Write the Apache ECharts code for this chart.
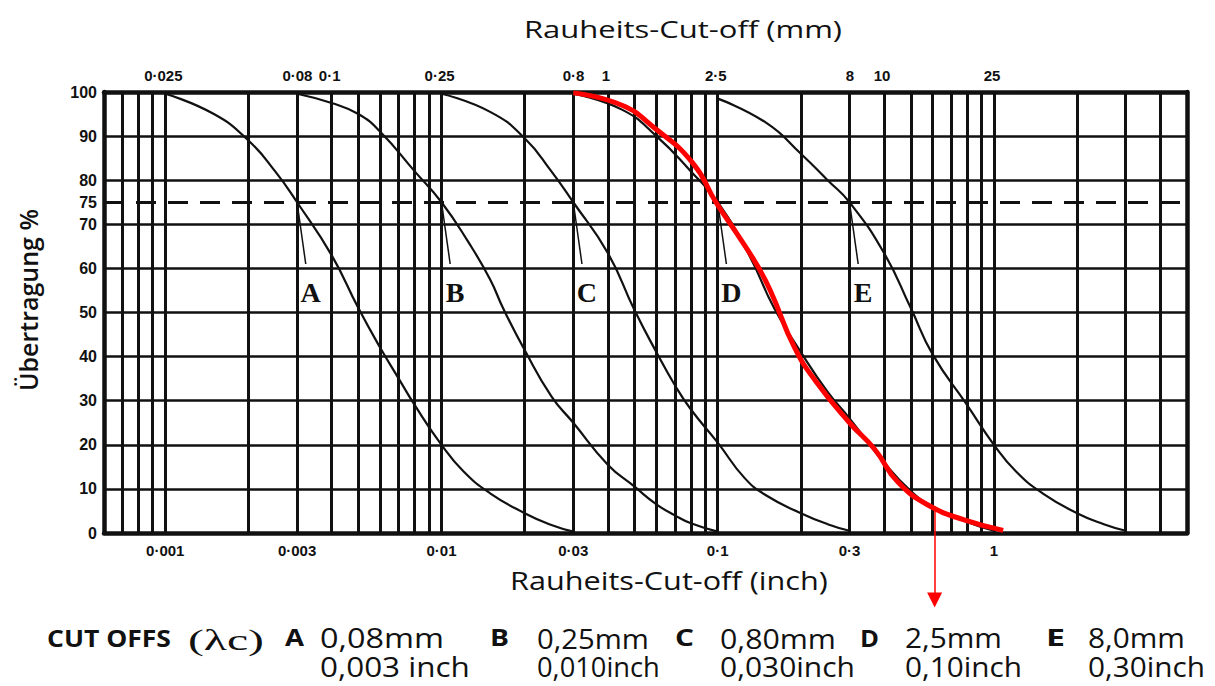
<!DOCTYPE html>
<html><head><meta charset="utf-8">
<script src="https://cdn.jsdelivr.net/npm/echarts@6/dist/echarts.min.js"></script>
<style>html,body{margin:0;padding:0;background:#fff}#c{width:1215px;height:686px}</style>
</head><body><div id="c"></div>
<script>
// ---------------- data ----------------
// transmission curves: [wavelength cut-off in inch, transmission %]
const curveA = [[0.001,99.6],[0.0015,95],[0.002,89],[0.0025,82],[0.003,75],[0.004,63],[0.005,51],[0.006,42],[0.007,35],[0.008,29],[0.01,20],[0.012,14],[0.015,9],[0.02,4.5],[0.025,1.8],[0.03,0.3]];
const curveB = [[0.003,99.6],[0.004,97.5],[0.005,95],[0.006,91],[0.008,82],[0.01,75],[0.0125,66],[0.015,57.5],[0.0167,51],[0.02,41.5],[0.025,31],[0.03,25],[0.04,15.5],[0.05,10.5],[0.06,6.5],[0.07,4],[0.08,2.2],[0.1,0.3]];
const curveC = [[0.01,99.6],[0.015,95.5],[0.02,89.5],[0.025,82],[0.03,75],[0.04,63.5],[0.05,50.5],[0.06,41],[0.07,33.5],[0.08,28],[0.1,20.5],[0.125,12.5],[0.15,8.5],[0.2,4.5],[0.25,2],[0.3,0.5]];
const curveD = [[0.03,99.6],[0.045,96],[0.06,90],[0.08,82],[0.1,75],[0.13,63],[0.16,51],[0.2,41],[0.25,32],[0.3,26],[0.4,16],[0.5,9.5],[0.6,6],[0.8,2.5],[1,0.5]];
const curveE = [[0.1,98.5],[0.15,93],[0.2,86],[0.25,80],[0.3,75],[0.4,63.5],[0.5,51],[0.6,40.5],[0.8,29],[1,20],[1.2,14],[1.5,9],[2,4.5],[2.5,2],[3,0.5]];
// red hand-drawn highlight over curve D
const curveRed = [[0.03,99.8],[0.045,97],[0.0586,92],[0.081,84],[0.0985,75],[0.117,68],[0.138,61],[0.155,55],[0.19,42],[0.229,34],[0.3,25],[0.37,19],[0.45,11.5],[0.59,6],[0.78,3],[1.08,0.6]];
const arrowAt = [0.61, 6];            // red arrow start on the red curve
const cutoffLetters = ['A','B','C','D','E'];
const cutoffInch = [0.003,0.01,0.03,0.1,0.3];
const cutoffMmText = ['0,08mm','0,25mm','0,80mm','2,5mm','8,0mm'];
const cutoffInchText = ['0,003 inch','0,010inch','0,030inch','0,10inch','0,30inch'];
// axis ticks
const inchTickLabels = [0.001,0.003,0.01,0.03,0.1,0.3,1];
const mmTickLabels = [0.025,0.08,0.1,0.25,0.8,1,2.5,8,10,25];
const inchGridLines = [];
[0.0001,0.001,0.01,0.1,1].forEach(d => { for (let k=1;k<=9;k++){ const v=+(k*d).toPrecision(3); if (v>0.00061 && v<4.9) inchGridLines.push(v);} });
const xMinInch = 0.0006, xMaxInch = 5, mmPerInch = 25.4;

// ---------------- helpers ----------------
const INK = '#111';
function fmtDot(v){ return String(+(+v).toPrecision(4)).replace('.', '·'); }
function fmtTop(v){
  const s = fmtDot(v);
  const n = +(+v).toPrecision(4);
  return (n === 0.08 || n === 0.8 || n === 8) ? '{l|' + s + '}' : '{n|' + s + '}';
}
const mctx = document.createElement('canvas').getContext('2d');
function textW(t, font){ mctx.font = font; return mctx.measureText(t).width; }
function fitText(t, x, y, w, size, family, weight, extra){
  const sx = w / textW(t, (weight||'normal')+' '+size+'px '+family);
  return Object.assign({type:'text', x:x, y:y, scaleX:sx, scaleY:1, originX:0, originY:0, silent:true,
    style:{text:t, fontSize:size, fontFamily:family, fontWeight:weight||'normal', fill:INK,
           align:'left', verticalAlign:'middle', textAlign:'left', textVerticalAlign:'middle'}}, extra||{});
}
const tickFont = {fontFamily:'Liberation Sans', fontWeight:'bold', fontSize:15, color:INK};

const chart = echarts.init(document.getElementById('c'), null, {renderer:'svg'});

const graphics = [
  fitText('Rauheits-Cut-off (mm)', 524, 28, 318, 24, 'Open Sans'),
  fitText('Rauheits-Cut-off (inch)', 510, 580, 318, 25, 'Open Sans'),
  fitText('CUT OFFS', 47, 638, 124, 23, 'Open Sans', 'bold'),
  fitText('(λc)', 188, 640, 76, 29, 'Liberation Serif'),
  {type:'text', x:28, y:300, rotation:Math.PI/2, silent:true,
   style:{text:'Übertragung %', fontSize:25, fontFamily:'Open Sans', fontWeight:600, fill:INK,
          align:'center', verticalAlign:'middle', textAlign:'center', textVerticalAlign:'middle'}}
];
const legendLetterX = [285, 490, 675, 860, 1046];
const legendValX = [320, 537, 720, 905, 1088];
const legendMmW = [124, 112, 116, 97, 97];
const legendInW = [150, 123, 135, 117, 117];
cutoffLetters.forEach((L,i) => {
  graphics.push(fitText(L, legendLetterX[i], 637, 19, 24, 'Open Sans', 'bold'));
  graphics.push(fitText(cutoffMmText[i], legendValX[i], 638, legendMmW[i], 27, 'Open Sans'));
  graphics.push(fitText(cutoffInchText[i], legendValX[i], 667, legendInW[i], 27, 'Open Sans'));
});

const blackSeries = [curveA, curveB, curveC, curveD, curveE].map((d,i) => ({
  type:'line', name:'Kurve '+cutoffLetters[i], data:d, xAxisIndex:0, yAxisIndex:0,
  smooth:0.5, showSymbol:false, symbol:'none', silent:true, z:3,
  lineStyle:{color:INK, width:2.2}
}));
blackSeries[0].markLine = {
  silent:true, symbol:'none', animation:false,
  lineStyle:{color:INK, width:3, type:[20,12]},
  label:{show:true, position:'start', formatter:'75', distance:7, ...tickFont, fontSize:16},
  data:[{yAxis:75}]
};

const option = {
  animation:false,
  backgroundColor:'#fff',
  grid:{left:104, right:28, top:92, bottom:153},
  xAxis:[
    {type:'log', position:'bottom', min:xMinInch, max:xMaxInch,
     axisLine:{show:true, onZero:false, lineStyle:{color:INK, width:4.5}},
     axisTick:{show:false, customValues:inchGridLines},
     splitLine:{show:true, lineStyle:{color:INK, width:3}},
     axisLabel:{customValues:inchTickLabels, formatter:fmtDot, margin:10, ...tickFont}},
    {type:'log', position:'top', min:xMinInch*mmPerInch, max:xMaxInch*mmPerInch,
     axisLine:{show:true, onZero:false, lineStyle:{color:INK, width:4.5}},
     axisTick:{show:false, customValues:mmTickLabels},
     splitLine:{show:false},
     axisLabel:{customValues:mmTickLabels, formatter:fmtTop, margin:9, ...tickFont,
       rich:{l:{...tickFont, padding:[0,11,0,0]}, n:{...tickFont}}}}
  ],
  yAxis:[
    {type:'value', min:0, max:100, interval:10, position:'left',
     axisLine:{show:true, onZero:false, lineStyle:{color:INK, width:4.5}},
     axisTick:{show:false},
     splitLine:{show:true, lineStyle:{color:INK, width:2.6}},
     axisLabel:{margin:7, ...tickFont, fontSize:16}},
    {type:'value', min:0, max:100, interval:10, position:'right',
     axisLine:{show:true, onZero:false, lineStyle:{color:INK, width:4.5}},
     axisTick:{show:false}, splitLine:{show:false}, axisLabel:{show:false}}
  ],
  graphic:graphics,
  series:[
    ...blackSeries,
    {type:'line', name:'Markierung', data:curveRed, xAxisIndex:0, yAxisIndex:0,
     smooth:0.5, showSymbol:false, symbol:'none', silent:true, z:5,
     lineStyle:{color:'#ff0000', width:5}},
    {type:'lines', coordinateSystem:'cartesian2d', xAxisIndex:0, yAxisIndex:0, clip:false, silent:true, z:4,
     data:cutoffInch.map(c => ({coords:[[c,75],[c*1.075,61]]})),
     lineStyle:{color:INK, width:1.5, opacity:1}, symbol:'none'},
    {type:'scatter', xAxisIndex:0, yAxisIndex:0, silent:true, z:6, symbolSize:0,
     itemStyle:{color:INK, opacity:1},
     data:cutoffInch.map((c,i) => ({value:[c*1.12,54.5], name:cutoffLetters[i]})),
     label:{show:true, position:'inside', formatter:p => p.name, color:INK, opacity:1,
            textBorderWidth:0, fontFamily:'Liberation Serif', fontWeight:'bold', fontSize:28}},
    {type:'lines', coordinateSystem:'cartesian2d', xAxisIndex:0, yAxisIndex:0, clip:false, silent:true, z:7,
     data:[{coords:[arrowAt,[arrowAt[0],-15.2]]}],
     symbol:['none','triangle'], symbolSize:15,
     lineStyle:{color:'#ff0000', width:1.5, opacity:1}, itemStyle:{color:'#ff0000'}}
  ]
};
chart.setOption(option);
</script></body></html>
